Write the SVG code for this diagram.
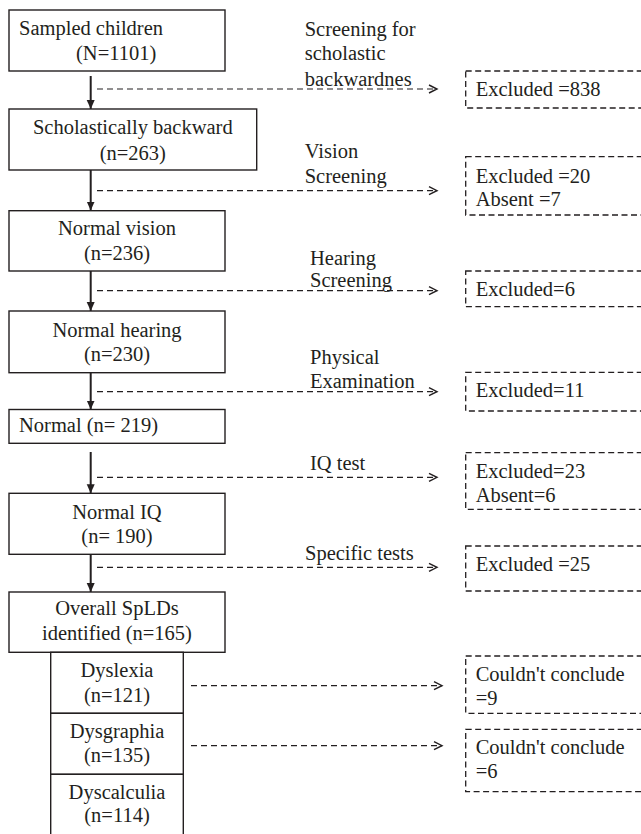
<svg xmlns="http://www.w3.org/2000/svg" width="641" height="834" viewBox="0 0 641 834">
<defs>
<style>
.box{fill:#fff;stroke:#231f20;stroke-width:1.4}
.dbox{fill:none;stroke:#231f20;stroke-width:1.3;stroke-dasharray:6 3.5}
.v{stroke:#231f20;stroke-width:2;fill:none}
.h{stroke:#231f20;stroke-width:1.2;stroke-dasharray:6 4;fill:none}
</style>
<marker id="solid" markerUnits="userSpaceOnUse" markerWidth="10" markerHeight="10" refX="9" refY="4" orient="auto">
<path d="M0,0 L9,4 L0,8 Z" fill="#231f20" stroke="none"/>
</marker>
<marker id="open" markerUnits="userSpaceOnUse" markerWidth="12" markerHeight="12" refX="9" refY="5" orient="auto">
<path d="M1,1 L9,5 L1,9" fill="none" stroke="#231f20" stroke-width="1.4" stroke-dasharray="none"/>
</marker>
</defs>
<rect width="641" height="834" fill="#fff"/>

<g id="connectors">
<line class="v" x1="90.7" y1="76" x2="90.7" y2="109" marker-end="url(#solid)"/>
<line class="h" x1="97" y1="89" x2="437" y2="89" marker-end="url(#open)"/>
<line class="v" x1="90.7" y1="170" x2="90.7" y2="210.5" marker-end="url(#solid)"/>
<line class="h" x1="97" y1="190.7" x2="437" y2="190.7" marker-end="url(#open)"/>
<line class="v" x1="90.7" y1="271" x2="90.7" y2="311" marker-end="url(#solid)"/>
<line class="h" x1="97" y1="290.7" x2="437" y2="290.7" marker-end="url(#open)"/>
<line class="v" x1="90.7" y1="372.7" x2="90.7" y2="409.5" marker-end="url(#solid)"/>
<line class="h" x1="97" y1="391.7" x2="437" y2="391.7" marker-end="url(#open)"/>
<line class="v" x1="90.7" y1="452" x2="90.7" y2="493.3" marker-end="url(#solid)"/>
<line class="h" x1="97" y1="477.3" x2="437" y2="477.3" marker-end="url(#open)"/>
<line class="v" x1="90.7" y1="554.3" x2="90.7" y2="592" marker-end="url(#solid)"/>
<line class="h" x1="97" y1="567.3" x2="437" y2="567.3" marker-end="url(#open)"/>
<line class="h" x1="191" y1="685.7" x2="442" y2="685.7" marker-end="url(#open)"/>
<line class="h" x1="191" y1="745.7" x2="442" y2="745.7" marker-end="url(#open)"/>
</g>

<g id="label-screening">
<text x="304.7" y="36" font-family="Liberation Serif" font-size="20.5" fill="#231f20">Screening for</text>
<text x="304.7" y="60" font-family="Liberation Serif" font-size="20.5" fill="#231f20">scholastic</text>
<text x="304.7" y="86" font-family="Liberation Serif" font-size="20.5" fill="#231f20">backwardnes</text>
</g>
<g id="label-vision">
<text x="304.7" y="158" font-family="Liberation Serif" font-size="20.5" fill="#231f20">Vision</text>
<text x="304.7" y="182.7" font-family="Liberation Serif" font-size="20.5" fill="#231f20">Screening</text>
</g>
<g id="label-hearing">
<text x="310" y="265" font-family="Liberation Serif" font-size="20.5" fill="#231f20">Hearing</text>
<text x="310" y="287.3" font-family="Liberation Serif" font-size="20.5" fill="#231f20">Screening</text>
</g>
<g id="label-physical">
<text x="310" y="364.3" font-family="Liberation Serif" font-size="20.5" fill="#231f20">Physical</text>
<text x="310" y="387.7" font-family="Liberation Serif" font-size="20.5" fill="#231f20">Examination</text>
</g>
<g id="label-iq">
<text x="310" y="470" font-family="Liberation Serif" font-size="20.5" fill="#231f20">IQ test</text>
</g>
<g id="label-specific">
<text x="305" y="560" font-family="Liberation Serif" font-size="20.5" fill="#231f20">Specific tests</text>
</g>

<g id="sampled">
<rect class="box" x="9" y="10" width="216" height="61"/>
<text x="19" y="35" font-family="Liberation Serif" font-size="20.5" fill="#231f20">Sampled children</text>
<text x="76" y="60" font-family="Liberation Serif" font-size="20.5" fill="#231f20">(N=1101)</text>
</g>
<g id="scholastic">
<rect class="box" x="9" y="109" width="247.7" height="61"/>
<text x="132.8" y="134" text-anchor="middle" font-family="Liberation Serif" font-size="20.5" fill="#231f20">Scholastically backward</text>
<text x="132.8" y="160" text-anchor="middle" font-family="Liberation Serif" font-size="20.5" fill="#231f20">(n=263)</text>
</g>
<g id="vision">
<rect class="box" x="9" y="210.7" width="216" height="60.3"/>
<text x="117" y="235" text-anchor="middle" font-family="Liberation Serif" font-size="20.5" fill="#231f20">Normal vision</text>
<text x="117" y="260" text-anchor="middle" font-family="Liberation Serif" font-size="20.5" fill="#231f20">(n=236)</text>
</g>
<g id="hearing">
<rect class="box" x="9" y="311" width="216" height="61.7"/>
<text x="117" y="336.7" text-anchor="middle" font-family="Liberation Serif" font-size="20.5" fill="#231f20">Normal hearing</text>
<text x="117" y="361" text-anchor="middle" font-family="Liberation Serif" font-size="20.5" fill="#231f20">(n=230)</text>
</g>
<g id="normal">
<rect class="box" x="9" y="409.5" width="216" height="33.8"/>
<text x="19" y="432" font-family="Liberation Serif" font-size="20.5" fill="#231f20">Normal (n= 219)</text>
</g>
<g id="normaliq">
<rect class="box" x="9" y="493.3" width="216" height="61"/>
<text x="117" y="519.3" text-anchor="middle" font-family="Liberation Serif" font-size="20.5" fill="#231f20">Normal IQ</text>
<text x="117" y="542.7" text-anchor="middle" font-family="Liberation Serif" font-size="20.5" fill="#231f20">(n= 190)</text>
</g>
<g id="overall">
<rect class="box" x="9" y="592" width="216" height="60.3"/>
<text x="117" y="615" text-anchor="middle" font-family="Liberation Serif" font-size="20.5" fill="#231f20">Overall SpLDs</text>
<text x="117" y="640" text-anchor="middle" font-family="Liberation Serif" font-size="20.5" fill="#231f20">identified (n=165)</text>
</g>
<g id="dyslexia">
<rect class="box" x="50.7" y="652.3" width="132.6" height="61"/>
<text x="117" y="677.3" text-anchor="middle" font-family="Liberation Serif" font-size="20.5" fill="#231f20">Dyslexia</text>
<text x="117" y="701.7" text-anchor="middle" font-family="Liberation Serif" font-size="20.5" fill="#231f20">(n=121)</text>
</g>
<g id="dysgraphia">
<rect class="box" x="50.7" y="713.3" width="132.6" height="61"/>
<text x="117" y="738.3" text-anchor="middle" font-family="Liberation Serif" font-size="20.5" fill="#231f20">Dysgraphia</text>
<text x="117" y="761.7" text-anchor="middle" font-family="Liberation Serif" font-size="20.5" fill="#231f20">(n=135)</text>
</g>
<g id="dyscalculia">
<rect class="box" x="50.7" y="774.3" width="132.6" height="62"/>
<text x="117" y="799.3" text-anchor="middle" font-family="Liberation Serif" font-size="20.5" fill="#231f20">Dyscalculia</text>
<text x="117" y="822.3" text-anchor="middle" font-family="Liberation Serif" font-size="20.5" fill="#231f20">(n=114)</text>
</g>

<g id="excl-838">
<rect class="dbox" x="465.7" y="71" width="180" height="37"/>
<text x="475.7" y="96" font-family="Liberation Serif" font-size="20.5" fill="#231f20">Excluded =838</text>
</g>
<g id="excl-20">
<rect class="dbox" x="465.7" y="156.7" width="180" height="58.3"/>
<text x="475.7" y="182.7" font-family="Liberation Serif" font-size="20.5" fill="#231f20">Excluded =20</text>
<text x="475.7" y="206" font-family="Liberation Serif" font-size="20.5" fill="#231f20">Absent =7</text>
</g>
<g id="excl-6">
<rect class="dbox" x="465.7" y="271" width="180" height="35.7"/>
<text x="475.7" y="296" font-family="Liberation Serif" font-size="20.5" fill="#231f20">Excluded=6</text>
</g>
<g id="excl-11">
<rect class="dbox" x="465.7" y="372.3" width="180" height="38.7"/>
<text x="475.7" y="396.7" font-family="Liberation Serif" font-size="20.5" fill="#231f20">Excluded=11</text>
</g>
<g id="excl-23">
<rect class="dbox" x="465.7" y="452.7" width="180" height="56.6"/>
<text x="475.7" y="478.3" font-family="Liberation Serif" font-size="20.5" fill="#231f20">Excluded=23</text>
<text x="475.7" y="501.7" font-family="Liberation Serif" font-size="20.5" fill="#231f20">Absent=6</text>
</g>
<g id="excl-25">
<rect class="dbox" x="465.7" y="546" width="180" height="45"/>
<text x="475.7" y="570.7" font-family="Liberation Serif" font-size="20.5" fill="#231f20">Excluded =25</text>
</g>
<g id="cc-9">
<rect class="dbox" x="465.7" y="656" width="180" height="57.3"/>
<text x="475.7" y="680.7" font-family="Liberation Serif" font-size="20.5" fill="#231f20">Couldn't conclude</text>
<text x="475.7" y="705" font-family="Liberation Serif" font-size="20.5" fill="#231f20">=9</text>
</g>
<g id="cc-6">
<rect class="dbox" x="465.7" y="729.3" width="180" height="62.4"/>
<text x="475.7" y="754" font-family="Liberation Serif" font-size="20.5" fill="#231f20">Couldn't conclude</text>
<text x="475.7" y="778.3" font-family="Liberation Serif" font-size="20.5" fill="#231f20">=6</text>
</g>
</svg>
